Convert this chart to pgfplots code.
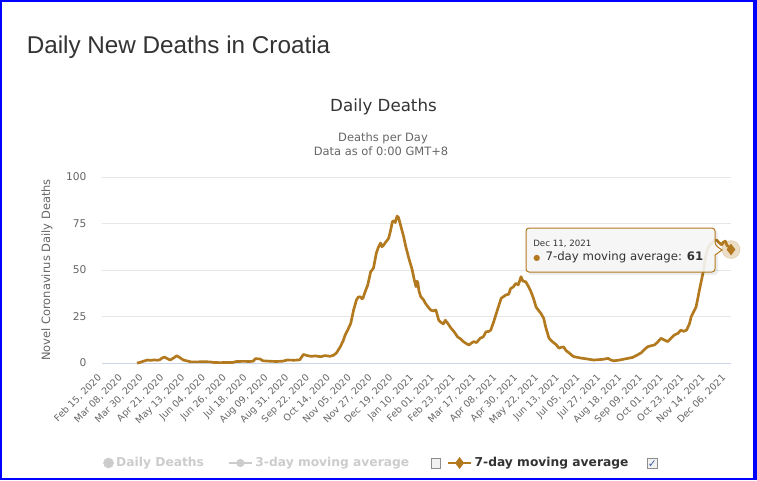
\documentclass[border=0pt]{standalone}
\usepackage{pgfplots}
\pgfplotsset{compat=1.18}
\usepackage{fontspec}
\setmainfont{DejaVu Sans}
\newfontfamily\titlefont{Liberation Sans}
\newfontfamily\symfont{DejaVu Sans}

\definecolor{ma7}{RGB}{178,121,30}
\definecolor{txt}{HTML}{333333}
\definecolor{lbl}{HTML}{666666}
\definecolor{gridc}{HTML}{E6E6E6}
\definecolor{axc}{HTML}{CCD6EB}
\definecolor{faded}{HTML}{CCCCCC}
\definecolor{cbgray}{HTML}{8C8C8C}
\definecolor{cbblue}{HTML}{3A5BA0}
\definecolor{frameblue}{RGB}{0,0,255}

% legend checkbox
\newcommand\cbox[1]{{\setlength\fboxsep{0pt}\setlength\fboxrule{0.6pt}%
  \raisebox{-1pt}{\fcolorbox{cbgray}{white!90!gray}{\makebox[6.8pt][c]{\rule{0pt}{6.8pt}\raisebox{0.6pt}{#1}}}}}}
\newcommand\tick{{\symfont\bfseries\fontsize{8}{8}\selectfont\color{cbblue}✓}}

\begin{document}
\begin{tikzpicture}
% 757 x 480 px canvas, 1px = 0.75pt
\fill[frameblue] (0,0) rectangle (567.75pt,-360pt);
\fill[white] (1.5pt,-1.5pt) rectangle (564.75pt,-358.5pt);

\begin{axis}[
    at={(76.5pt,-272.25pt)}, anchor=south west,
    scale only axis, width=471.75pt, height=139.5pt,
    xmin=0, xmax=665, ymin=0, ymax=100,
    axis x line*=bottom, axis y line*=left,
    x axis line style={axc, line width=0.75pt},
    y axis line style={draw=none},
    ytick={0,25,50,75,100},
    ymajorgrids, grid style={gridc, line width=0.75pt},
    major tick length=0pt,
    xtick={0,22,...,660},
    xticklabels={{Feb 15, 2020},{Mar 08, 2020},{Mar 30, 2020},{Apr 21, 2020},{May 13, 2020},{Jun 04, 2020},{Jun 26, 2020},{Jul 18, 2020},{Aug 09, 2020},{Aug 31, 2020},{Sep 22, 2020},{Oct 14, 2020},{Nov 05, 2020},{Nov 27, 2020},{Dec 19, 2020},{Jan 10, 2021},{Feb 01, 2021},{Feb 23, 2021},{Mar 17, 2021},{Apr 08, 2021},{Apr 30, 2021},{May 22, 2021},{Jun 13, 2021},{Jul 05, 2021},{Jul 27, 2021},{Aug 18, 2021},{Sep 09, 2021},{Oct 01, 2021},{Oct 23, 2021},{Nov 14, 2021},{Dec 06, 2021}},
    xticklabel style={rotate=45, anchor=base east, inner sep=0pt, font=\fontsize{7.1}{8}\selectfont, text=lbl},
    xticklabel shift=11.5pt,
    yticklabel style={anchor=east, inner sep=0pt, font=\fontsize{8}{9}\selectfont, text=lbl},
    yticklabel shift=11.5pt,
    /pgf/number format/assume math mode=true,
    ylabel={Novel Coronavirus Daily Deaths},
    every axis y label/.style={at={(axis description cs:-0.0874,0.5)}, rotate=90, anchor=center, font=\fontsize{8.6}{10}\selectfont, text=lbl},
    clip=false,
    legend columns=-1,
    legend cell align=left,
    legend style={at={(axis description cs:0.002,-0.5376)}, anchor=west, draw=none, fill=none, inner sep=0pt,
      font=\bfseries\fontsize{9.2}{10}\selectfont, nodes={inner sep=2pt},
      /tikz/every even column/.append style={column sep=0pt}},
  ]
  \addlegendimage{only marks, mark=*, mark size=3.75pt, faded}
  \addlegendentry[text=faded]{Daily Deaths\hspace{16pt}\null}
  \addlegendimage{faded, line width=1.5pt, mark=*, mark size=2.25pt}
  \addlegendentry[text=faded]{3-day moving average\hspace{16pt}\cbox{}\hspace{2.5pt}\null}
  \addlegendimage{ma7, line width=1.5pt, mark=diamond*, mark size=3.25pt}
  \addlegendentry[text=txt]{7-day moving average\hspace{14pt}\cbox{\tick}}

  % hover halo behind the last point
  \addplot[only marks, mark=*, mark size=6.75pt, color=ma7, opacity=0.25, mark options={draw=none}, forget plot] coordinates {(665,61)};
  % 7-day moving average, day 0 = Feb 15, 2020
  \addplot[ma7, line width=2pt, line join=round, forget plot] coordinates {
    (37,0) (40,0.3) (44,1.0) (48,1.6) (52,1.4) (55,1.7) (58,1.5) (61,1.7) (63,2.5) (66,3.2) (69,2.4) (72,1.6)
    (76,2.8) (79,3.9) (82,3.0) (86,1.6) (91,1.0) (94,0.6) (100,0.6) (108,0.7) (114,0.6)
    (118,0.3) (125,0.2) (132,0.3) (138,0.3) (142,0.8) (150,0.9) (156,0.8) (160,1.0)
    (162,2.3) (167,2.2) (170,1.2) (176,1.0) (184,0.8) (191,1.0) (196,1.6) (203,1.5)
    (209,1.7) (213,4.6) (217,4.0) (221,3.6) (226,3.8) (231,3.4) (236,4.0) (241,3.6)
    (245,4.2) (248,5.5) (252,8.8) (255,12) (257,15) (260,18) (263,21.3) (266,28.5)
    (269,33.9) (271,35.5) (273,35.6) (275,34.5) (276,35) (278,38) (281,42) (284,49) (287,51)
    (290,59) (292,62) (294.5,64.5) (296,62.5) (297.7,63.4) (300,65) (303,67) (305,71) (307,76)
    (309,76.5) (310,75.5) (312,79) (313.5,78.2) (315.7,74) (318.9,68) (321,63) (324,57) (328,50)
    (330,45) (332,41) (333,44) (334,43) (335,39) (337,35.6) (340,34) (342,32) (345,30)
    (347.5,28.5) (350,28) (353,28.5) (356,23) (358,22) (361,21) (363,23) (366,21)
    (369,18.7) (372,17) (376,14) (379,13) (382,11.5) (385,10.5) (388,9.7) (390,10.5)
    (393,11.5) (396,11) (400,13.4) (403,14) (406,16.8) (409,17) (411,17.7) (414,22)
    (418,28.5) (422,34.8) (424,35.5) (427,36.6) (430,37) (432,40) (435,41) (437.5,42.8)
    (440,42) (441.5,44) (443,46.4) (445,44) (448,43.7) (451,41) (453,39) (456,35) (459,30) (462,28)
    (464,26.7) (467,24) (469,19.5) (472.5,13.4) (475,12) (478,10.7) (480,10) (483,8)
    (486,8.5) (488,8.6) (491,6.5) (494,5.4) (497,4) (499,3.4) (503,3) (506,2.7)
    (510,2.4) (515,2) (520,1.6) (525,1.8) (530,2.0) (535,2.5) (538,1.6) (541,1.2)
    (546,1.5) (551,2.0) (556,2.5) (561,3.0) (566,4.3) (570,5.5) (574,7.5) (577,8.8)
    (580,9.2) (584,9.7) (587,11) (591,13.3) (594,12.5) (598,11.5) (601,13) (605,15)
    (609,16) (612,17.7) (615,17) (618,17.7) (621,21) (623,25) (626,28) (628,30)
    (630,35) (631.5,39) (634,45) (636,50) (638,57) (640,61) (642,63) (644,64) (647,66)
    (650,66) (653,64.5) (655,63.5) (657,65) (659,65.5) (661,63) (663,62.5) (665,61)
  };
  % hover marker on Dec 11, 2021
  \addplot[only marks, mark=diamond*, mark size=4pt, mark options={draw=ma7, fill=ma7}, forget plot] coordinates {(665,61)};
\end{axis}

\begin{scope}[x=0.75pt, y=-0.75pt]
  \node[anchor=base west, inner sep=0pt, font=\titlefont\fontsize{18.2}{20}\selectfont, text=txt] at (26.5,53) {Daily New Deaths in Croatia};
  \node[anchor=base, inner sep=0pt, font=\fontsize{12.5}{14}\selectfont, text=txt] at (383.5,111.5) {Daily Deaths};
  \node[anchor=base, inner sep=0pt, font=\fontsize{8.6}{10}\selectfont, text=lbl] at (383,141.5) {Deaths per Day};
  \node[anchor=base, inner sep=0pt, font=\fontsize{8.6}{10}\selectfont, text=lbl] at (381,155.5) {Data as of 0:00 GMT+8};

  % tooltip
  \fill[black, opacity=0.07, rounded corners=2.25pt] (528,230) rectangle (718,275);
  \draw[ma7, line width=0.75pt, fill=white!97!black, fill opacity=0.9, rounded corners=2.25pt]
    (620,228) -- (715,228) -- (715,245) [sharp corners] -- (722,250) -- (715,255)
    [rounded corners=2.25pt] -- (715,272) -- (526,272) -- (526,228) -- cycle;
  \node[anchor=base west, inner sep=0pt, font=\fontsize{6.5}{7}\selectfont, text=txt] at (533,246.5) {Dec 11, 2021};
  \node[anchor=base west, inner sep=0pt, font=\fontsize{8.8}{10}\selectfont, text=txt] at (533,260.5)
    {{\fontsize{6}{6}\selectfont\color{ma7}●}\hspace{4pt}7-day moving average: \textbf{61}};
\end{scope}

\pgfresetboundingbox
\path (0,0) rectangle (567.75pt,-360pt);
\end{tikzpicture}
\end{document}
